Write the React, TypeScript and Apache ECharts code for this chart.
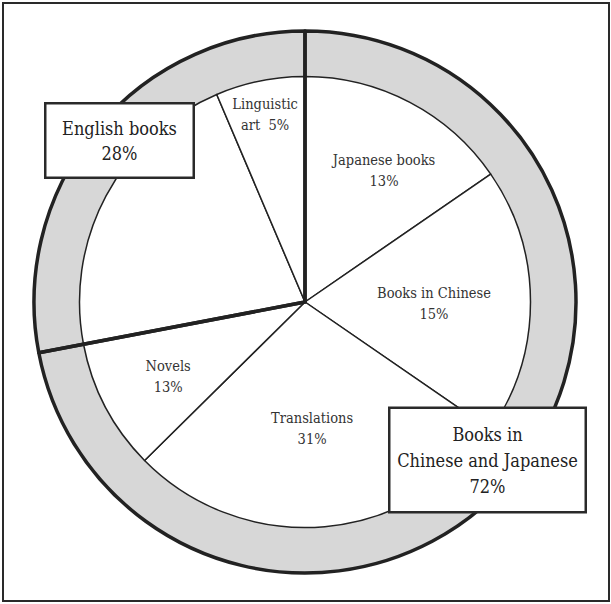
import React, { useEffect, useRef } from "react";
import * as echarts from "echarts";

// Outer ring: language groups (label values and drawn shares)
const groupNames = ["Books in\nChinese and Japanese", "English books"];
const groupValues = [72, 28];

// Inner pie: sub-categories, shares as drawn in the picture (clockwise from 12 o'clock)
const subNames = ["Japanese books", "Books in Chinese", "Translations", "Novels", "", "Linguistic"];
const subShares = [15.4, 19.2, 28.0, 9.4, 21.6, 6.4];
// Percentages printed on the picture
const subPercents = [13, 15, 31, 13, null, 5];

// layout (not data)
const W = 611;
const H = 604;
const CX = 305;
const CY = 302;
const R_IN = 225;
const R_OUT = 271;
const FONT = "DejaVu Serif Condensed, DejaVu Serif";
// label placement: [angle clockwise from top in degrees, radius in px]
const subLabelPolar: number[][] = [
  [31.1, 153],
  [90.7, 129],
  [176.8, 127],
  [241.3, 156],
  [300, 120],
  [348, 192],
];
const groupLabelCenter: number[][] = [
  [487.5, 460],
  [119.5, 140.5],
];

function subLabelText(i: number): string {
  const p = subPercents[i];
  if (p == null) return "";
  if (subNames[i] === "Linguistic") return "Linguistic\nart  " + p + "%";
  return subNames[i] + "\n" + p + "%";
}

export default function App() {
  const ref = useRef<HTMLDivElement>(null);
  useEffect(() => {
    if (!ref.current) return;
    const chart = echarts.init(ref.current, undefined, { renderer: "svg" });
    const groupData = groupNames.map((n, i) => ({ name: n, value: groupValues[i] }));
    const subData = subNames.map((n, i) => ({
      name: n || "Other English books",
      value: subShares[i],
      label: { show: subPercents[i] != null },
    }));
    chart.setOption({
      animation: false,
      backgroundColor: "#ffffff",
      textStyle: { fontFamily: FONT },
      graphic: [
        {
          type: "rect",
          shape: { x: 3, y: 3, width: 606, height: 598 },
          style: { fill: "none", stroke: "#2a2a2a", lineWidth: 2 },
          silent: true,
          z: 0,
        },
      ],
      series: [
        {
          type: "pie",
          name: "ring",
          z: 1,
          silent: true,
          center: [CX, CY],
          radius: [R_IN, R_OUT],
          startAngle: 90,
          clockwise: true,
          avoidLabelOverlap: false,
          label: { show: false },
          labelLine: { show: false },
          itemStyle: { color: "#d7d7d7", borderWidth: 0 },
          data: groupData,
        },
        {
          type: "pie",
          name: "sub",
          z: 2,
          silent: true,
          center: [CX, CY],
          radius: [0, R_IN + 0.5],
          startAngle: 90,
          clockwise: true,
          avoidLabelOverlap: false,
          itemStyle: { color: "#ffffff", borderColor: "#222222", borderWidth: 1.5 },
          labelLine: { show: false },
          label: {
            position: "inside",
            formatter: (p: any) => subLabelText(p.dataIndex),
            fontFamily: FONT,
            fontSize: 14.5,
            lineHeight: 21,
            color: "#333333",
            align: "center",
          },
          labelLayout: (p: any) => {
            const pos = subLabelPolar[p.dataIndex];
            const a = (pos[0] * Math.PI) / 180;
            return {
              x: CX + pos[1] * Math.sin(a),
              y: CY - pos[1] * Math.cos(a),
              align: "center",
              verticalAlign: "middle",
            };
          },
          data: subData,
        },
        {
          type: "pie",
          name: "groups",
          z: 3,
          silent: true,
          center: [CX, CY],
          radius: [0, R_OUT],
          startAngle: 90,
          clockwise: true,
          avoidLabelOverlap: false,
          itemStyle: { color: "rgba(0,0,0,0)", borderColor: "#222222", borderWidth: 3.5 },
          labelLine: { show: false },
          label: {
            show: true,
            position: "inside",
            formatter: (p: any) => p.name + "\n" + p.value + "%",
            fontFamily: FONT,
            fontSize: 18,
            color: "#222222",
            align: "center",
            overflow: "none",
            backgroundColor: "#ffffff",
            borderColor: "#2a2a2a",
            borderWidth: 2.5,
          },
          labelLayout: (p: any) => {
            const c = groupLabelCenter[p.dataIndex];
            return { x: c[0], y: c[1], align: "center", verticalAlign: "middle" };
          },
          data: groupData.map((d, i) => ({
            ...d,
            label:
              i === 0
                ? { lineHeight: 26, width: 186, padding: [12, 4] }
                : { lineHeight: 25, width: 138, padding: [11, 4] },
          })),
        },
      ],
    });
    return () => chart.dispose();
  }, []);
  return (
    <div
      ref={ref}
      style={{ position: "fixed", left: 0, top: 0, width: W, height: H, background: "#fff" }}
    />
  );
}
